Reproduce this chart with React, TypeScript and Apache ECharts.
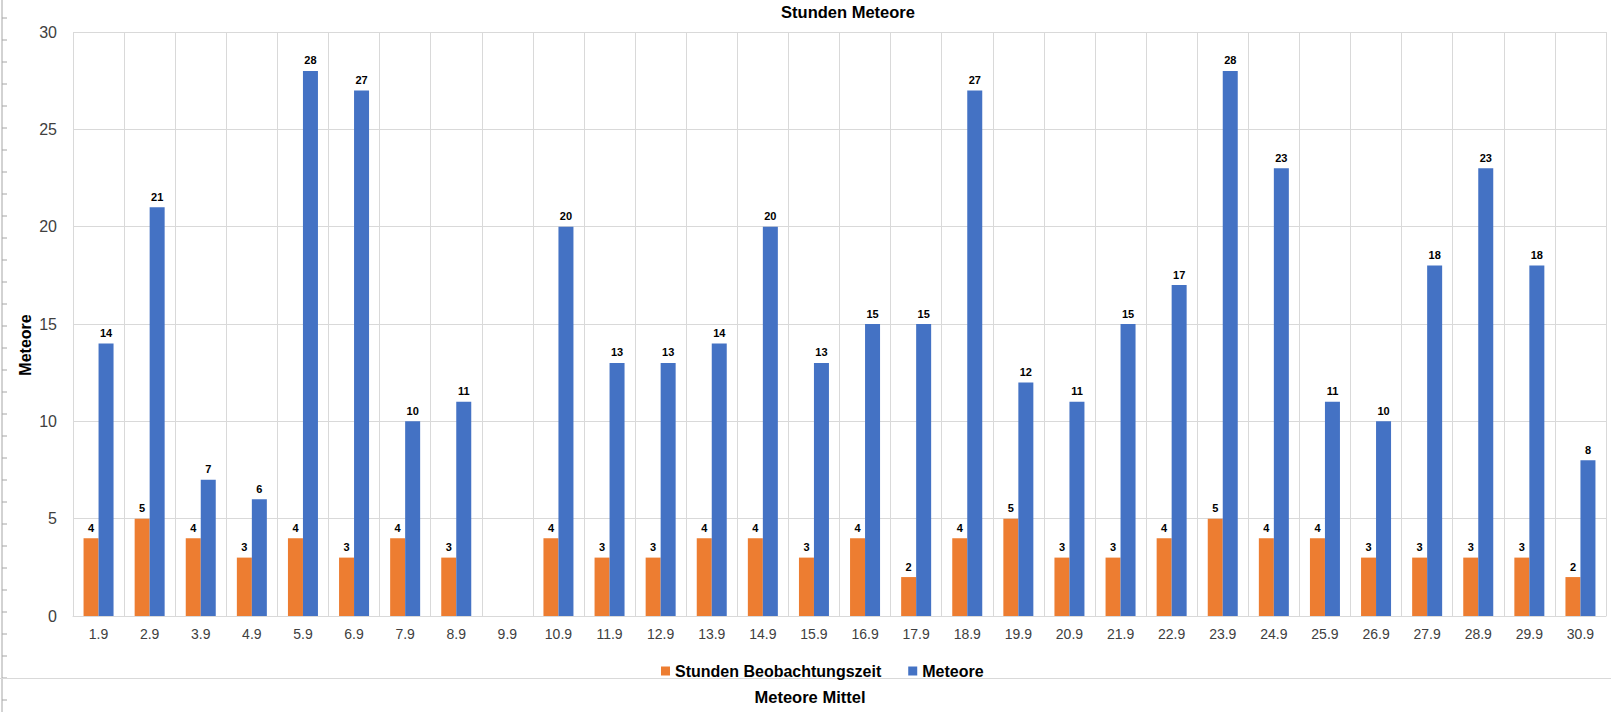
import React, { useEffect, useRef } from "react";
import * as echarts from "echarts";

const categories = ["1.9","2.9","3.9","4.9","5.9","6.9","7.9","8.9","9.9","10.9","11.9","12.9","13.9","14.9","15.9","16.9","17.9","18.9","19.9","20.9","21.9","22.9","23.9","24.9","25.9","26.9","27.9","28.9","29.9","30.9"];
const stunden = [4,5,4,3,4,3,4,3,null,4,3,3,4,4,3,4,2,4,5,3,3,4,5,4,4,3,3,3,3,2];
const meteore = [14,21,7,6,28,27,10,11,null,20,13,13,14,20,13,15,15,27,12,11,15,17,28,23,11,10,18,23,18,8];

const FONT = "'Liberation Sans', Arial, sans-serif";
const ORANGE = "#ED7D31";
const BLUE = "#4472C4";
const GRID = "#D9D9D9";

export default function App() {
  const ref = useRef<HTMLDivElement>(null);
  useEffect(() => {
    if (!ref.current) return;
    const chart = echarts.init(ref.current, undefined, { renderer: "svg" });
    const ruler: any[] = [
      { type: "line", shape: { x1: 2, y1: 0, x2: 2, y2: 712 }, style: { stroke: "#A6A6A6", lineWidth: 1 }, silent: true },
    ];
    for (let y = 18; y < 712; y += 22) {
      ruler.push({ type: "line", shape: { x1: 2, y1: y, x2: 7, y2: y }, style: { stroke: "#A6A6A6", lineWidth: 1 }, silent: true });
    }
    const labelStyle = { show: true, position: "top", fontFamily: FONT, fontSize: 11, fontWeight: "bold", color: "#000" };
    chart.setOption({
      animation: false,
      backgroundColor: "#fff",
      textStyle: { fontFamily: FONT },
      grid: { left: 73, top: 32, right: 5, bottom: 96, containLabel: false },
      legend: {
        left: 656,
        top: 658,
        itemWidth: 9,
        itemHeight: 9,
        itemGap: 27,
        icon: "rect",
        textStyle: { fontFamily: FONT, fontSize: 16, fontWeight: "bold", color: "#000" },
        data: ["Stunden Beobachtungszeit", "Meteore"],
      },
      xAxis: {
        type: "category",
        data: categories,
        boundaryGap: true,
        axisLine: { show: true, lineStyle: { color: GRID } },
        axisTick: { show: false },
        axisLabel: { fontFamily: FONT, fontSize: 14, color: "#404040", margin: 11, interval: 0 },
        splitLine: { show: true, interval: 0, lineStyle: { color: GRID } },
      },
      yAxis: {
        type: "value",
        min: 0,
        max: 30,
        interval: 5,
        axisLine: { show: false },
        axisTick: { show: false },
        axisLabel: { fontFamily: FONT, fontSize: 16, color: "#404040", margin: 16 },
        splitLine: { show: true, lineStyle: { color: GRID } },
      },
      series: [
        {
          name: "Stunden Beobachtungszeit",
          type: "bar",
          data: stunden,
          barWidth: 15,
          barGap: "0%",
          itemStyle: { color: ORANGE },
          label: labelStyle,
        },
        {
          name: "Meteore",
          type: "bar",
          data: meteore,
          barWidth: 15,
          barGap: "0%",
          itemStyle: { color: BLUE },
          label: labelStyle,
        },
      ],
      graphic: [
        ...ruler,
        {
          type: "text",
          x: 848,
          y: 12,
          style: { text: "Stunden Meteore", fontFamily: FONT, fontSize: 16.5, fontWeight: "bold", fill: "#000", align: "center", verticalAlign: "middle" },
        },
        {
          type: "text",
          x: 25,
          y: 345,
          rotation: Math.PI / 2,
          style: { text: "Meteore", fontFamily: FONT, fontSize: 16, fontWeight: "bold", fill: "#000", align: "center", verticalAlign: "middle" },
        },
        {
          type: "line",
          shape: { x1: 0, y1: 678.5, x2: 1611, y2: 678.5 },
          style: { stroke: GRID, lineWidth: 1 },
        },
        {
          type: "text",
          x: 810,
          y: 697,
          style: { text: "Meteore Mittel", fontFamily: FONT, fontSize: 16.5, fontWeight: "bold", fill: "#000", align: "center", verticalAlign: "middle" },
        },
      ],
    });
    return () => chart.dispose();
  }, []);
  return <div ref={ref} style={{ position: "fixed", left: 0, top: 0, width: 1611, height: 712 }} />;
}
